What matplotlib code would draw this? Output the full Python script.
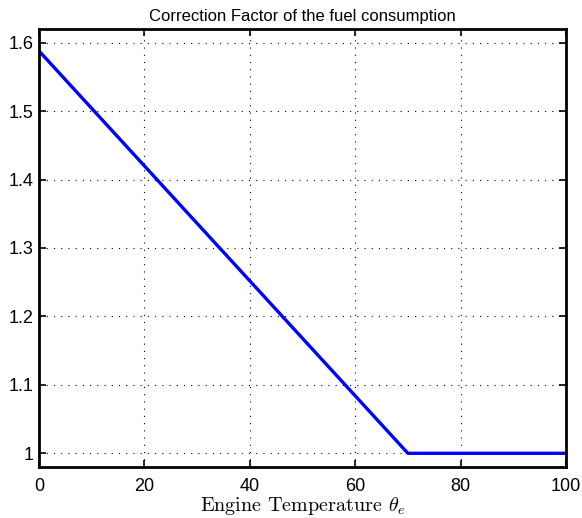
import matplotlib
matplotlib.use("Agg")
import matplotlib.pyplot as plt

# Temperatur-Stützstellen und Korrekturfaktor
temperatur = [0, 70, 100]
faktor = [1.588, 1.0, 1.0]

plt.rcParams["font.family"] = ["Liberation Sans", "DejaVu Sans"]
plt.rcParams["mathtext.fontset"] = "cm"
plt.rcParams["axes.unicode_minus"] = False

fig = plt.figure(figsize=(5.82, 5.18), dpi=100)
ax = fig.add_axes([0.067, 0.0985, 0.9055, 0.8455])

ax.plot(temperatur, faktor, color="#0000ff", linewidth=2.4)

ax.set_xlim(0, 100)
ax.set_ylim(0.98, 1.62)
ax.set_xticks([0, 20, 40, 60, 80, 100])
ax.set_yticks([1, 1.1, 1.2, 1.3, 1.4, 1.5, 1.6])
ax.set_yticklabels(["1", "1.1", "1.2", "1.3", "1.4", "1.5", "1.6"])
ax.tick_params(direction="in", top=True, right=True, labelsize=13, length=5, width=1.2)
ax.tick_params(axis="x", pad=8)
ax.tick_params(axis="y", pad=4)
ax.grid(True, linestyle=(0, (1, 5.5)), color="black", linewidth=0.8)
for s in ax.spines.values():
    s.set_linewidth(2)

ax.set_xlabel(r"Engine Temperature $\theta_e$", fontfamily="cmr10", fontsize=14.5, labelpad=0)
ax.set_title("Correction Factor of the fuel consumption", fontsize=12, pad=6)

fig.savefig("out.png", dpi=100)
